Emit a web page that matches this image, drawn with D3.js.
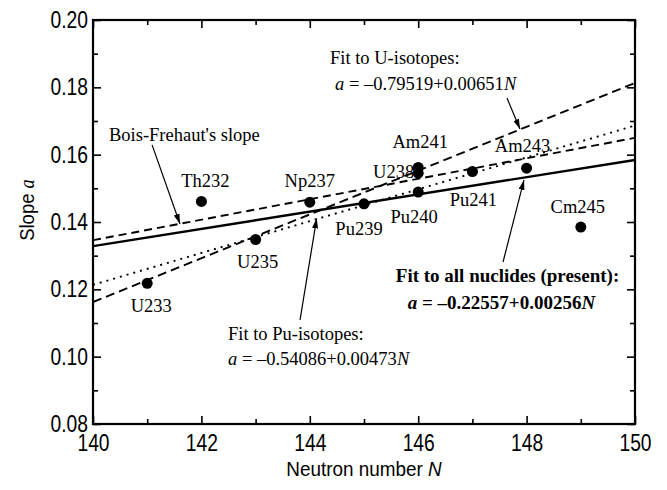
<!DOCTYPE html>
<html><head><meta charset="utf-8">
<script src="https://cdn.jsdelivr.net/npm/d3@7"></script>
<style>body{margin:0;background:#fff;} svg{display:block}</style>
</head><body><svg id="c" width="667" height="490"></svg>
<script>
// ---- data ----
const nuclides = ["U233","Th232","U235","Np237","Pu239","U238","Am241","Pu240","Pu241","Am243","Cm245"];
const neutronN = [141,142,143,144,145,146,146,146,147,148,149];
const slopeA   = [0.1218,0.1461,0.1348,0.1459,0.1454,0.1545,0.1562,0.1489,0.1550,0.1560,0.1385];
const fitNames      = ["all","uIso","puIso","bois"];
const fitIntercepts = [-0.22557,-0.79519,-0.54086,-0.2910];
const fitSlopes     = [0.00256,0.00651,0.00473,0.00304];
const xTickLabels = [140,142,144,146,148,150];
const yTickLabels = [0.08,0.10,0.12,0.14,0.16,0.18,0.20];

// ---- layout / style ----
const sans = "'Liberation Sans',Arial,sans-serif";
const serif = "'Liberation Serif','Times New Roman',serif";
const narrow = 0.82;
const svg = d3.select("#c");
const x = d3.scaleLinear().domain([140,150]).range([93,635]);
const y = d3.scaleLinear().domain([0.08,0.20]).range([424,20]);

// point label placement (pixel offsets from dot)
const labelOffsets = {
  U233:[4,29,"middle"], Th232:[4,-14,"middle"], U235:[2,28,"middle"], Np237:[0,-15,"middle"],
  Pu239:[-5,31,"middle"], U238:[-4,4.5,"end"], Am241:[2,-19,"middle"], Pu240:[-4,30.5,"middle"],
  Pu241:[1,34.5,"middle"], Am243:[-4,-16,"middle"], Cm245:[-3,-14,"middle"]
};
const fitStyles = {
  all:{w:2.4,dash:null}, uIso:{w:1.9,dash:"9,5"}, puIso:{w:1.9,dash:"2,5"}, bois:{w:1.9,dash:"8,5"}
};

// clip
svg.append("defs").append("clipPath").attr("id","clip").append("rect")
  .attr("x",x(140)).attr("y",y(0.20)).attr("width",x(150)-x(140)).attr("height",y(0.08)-y(0.20));
svg.select("defs").append("marker").attr("id","ah").attr("markerUnits","userSpaceOnUse")
  .attr("viewBox","0 0 10 6").attr("refX",10).attr("refY",3)
  .attr("markerWidth",10).attr("markerHeight",6).attr("orient","auto")
  .append("path").attr("d","M0,0 L10,3 L0,6 Z").attr("fill","#000");

// fit lines
const gl = svg.append("g").attr("clip-path","url(#clip)");
const dom = x.domain();
fitNames.forEach((nm,i)=>{
  const line = d3.line().x(d=>x(d)).y(d=>y(fitIntercepts[i]+fitSlopes[i]*d));
  const st = fitStyles[nm];
  gl.append("path").datum(dom).attr("d",line).attr("fill","none").attr("stroke","#000")
    .attr("stroke-width",st.w).attr("stroke-dasharray",st.dash);
});

// points
svg.append("g").selectAll("circle").data(nuclides).join("circle")
  .attr("cx",(d,i)=>x(neutronN[i])).attr("cy",(d,i)=>y(slopeA[i])).attr("r",5.5).attr("fill","#000");

// point labels
svg.append("g").selectAll("text").data(nuclides).join("text")
  .attr("x",(d,i)=>x(neutronN[i])+labelOffsets[d][0])
  .attr("y",(d,i)=>y(slopeA[i])+labelOffsets[d][1])
  .attr("text-anchor",d=>labelOffsets[d][2])
  .attr("font-family",serif).attr("font-size",18.5).text(d=>d);

// annotations (data coordinates)
const arrows = [
  [[141.09,0.1629],[141.605,0.1394]],
  [[147.638,0.1768],[147.878,0.1676]],
  [[143.82,0.1109],[144.127,0.1411]],
  [[147.565,0.1281],[147.952,0.1525]]
];
svg.append("g").selectAll("line").data(arrows).join("line")
  .attr("x1",d=>x(d[0][0])).attr("y1",d=>y(d[0][1]))
  .attr("x2",d=>x(d[1][0])).attr("y2",d=>y(d[1][1]))
  .attr("stroke","#000").attr("stroke-width",1.2).attr("marker-end","url(#ah)");

function addText(N,a,parts,opts){
  const t = svg.append("text").attr("x",x(N)).attr("y",y(a))
    .attr("font-family",serif).attr("font-size",opts.size||18.5)
    .attr("text-anchor",opts.anchor||"start").attr("font-weight",opts.bold?"bold":"normal");
  parts.forEach(p=>{
    t.append("tspan").attr("font-style",p[1]?"italic":"normal").text(p[0]);
  });
}
addText(144.373,0.1869,[["Fit to U-isotopes:",false]],{});
addText(144.465,0.1792,[["a",true],[" = \u20130.79519+0.00651",false],["N",true]],{});
addText(140.295,0.1641,[["Bois-Frehaut's slope",false]],{});
addText(142.491,0.1049,[["Fit to Pu-isotopes:",false]],{});
addText(142.491,0.0975,[["a",true],[" = \u20130.54086+0.00473",false],["N",true]],{});
addText(147.648,0.1222,[["Fit to all nuclides (present):",false]],{bold:true,anchor:"middle",size:19});
addText(147.537,0.1142,[["a",true],[" = \u20130.22557+0.00256",false],["N",true]],{bold:true,anchor:"middle",size:19});

// axes
const fmt = d3.format(".2f");
function styleAxis(g){ g.select(".domain").remove(); g.selectAll("line").attr("stroke","#000").attr("stroke-width",1.6); }
function narrowText(g){
  g.selectAll("text").each(function(){
    const t = d3.select(this);
    const tx = +t.attr("x") || 0, ty = +t.attr("y") || 0;
    t.attr("x",0).attr("y",0).attr("transform",`translate(${tx},${ty}) scale(${narrow},1)`)
     .attr("font-family",sans).attr("font-size",23.5).attr("fill","#000");
  });
}
const minorX = d3.range(141,150,2), minorY = [0.09,0.11,0.13,0.15,0.17,0.19];
svg.append("g").attr("transform",`translate(0,${y(0.08)})`)
  .call(d3.axisBottom(x).tickValues(xTickLabels).tickSize(-8).tickPadding(10).tickFormat(d3.format("d")))
  .call(styleAxis).call(narrowText);
svg.append("g").attr("transform",`translate(0,${y(0.08)})`)
  .call(d3.axisBottom(x).tickValues(minorX).tickSize(-5).tickFormat("")).call(styleAxis);
svg.append("g").attr("transform",`translate(0,${y(0.20)})`)
  .call(d3.axisTop(x).tickValues(xTickLabels).tickSize(-8).tickFormat("")).call(styleAxis);
svg.append("g").attr("transform",`translate(0,${y(0.20)})`)
  .call(d3.axisTop(x).tickValues(minorX).tickSize(-5).tickFormat("")).call(styleAxis);
svg.append("g").attr("transform",`translate(${x(140)},0)`)
  .call(d3.axisLeft(y).tickValues(yTickLabels).tickSize(-8).tickPadding(5).tickFormat(fmt))
  .call(styleAxis).call(narrowText);
svg.append("g").attr("transform",`translate(${x(140)},0)`)
  .call(d3.axisLeft(y).tickValues(minorY).tickSize(-5).tickFormat("")).call(styleAxis);
svg.append("g").attr("transform",`translate(${x(150)},0)`)
  .call(d3.axisRight(y).tickValues(yTickLabels).tickSize(-8).tickFormat("")).call(styleAxis);
svg.append("g").attr("transform",`translate(${x(150)},0)`)
  .call(d3.axisRight(y).tickValues(minorY).tickSize(-5).tickFormat("")).call(styleAxis);

// frame
svg.append("rect").attr("x",x(140)).attr("y",y(0.20)).attr("width",x(150)-x(140)).attr("height",y(0.08)-y(0.20))
  .attr("fill","none").attr("stroke","#000").attr("stroke-width",2.2);

// axis titles
const xt = svg.append("text").attr("transform",`translate(${(x(140)+x(150))/2},476) scale(0.9,1)`)
  .attr("text-anchor","middle").attr("font-family",sans).attr("font-size",21);
xt.append("tspan").text("Neutron number ");
xt.append("tspan").attr("font-style","italic").text("N");
const yt = svg.append("text").attr("transform",`translate(34,${(y(0.08)+y(0.20))/2 - 12}) rotate(-90) scale(0.88,1)`)
  .attr("text-anchor","middle").attr("font-family",sans).attr("font-size",21);
yt.append("tspan").text("Slope ");
yt.append("tspan").attr("font-family",serif).attr("font-style","italic").text("a");
</script></body></html>
